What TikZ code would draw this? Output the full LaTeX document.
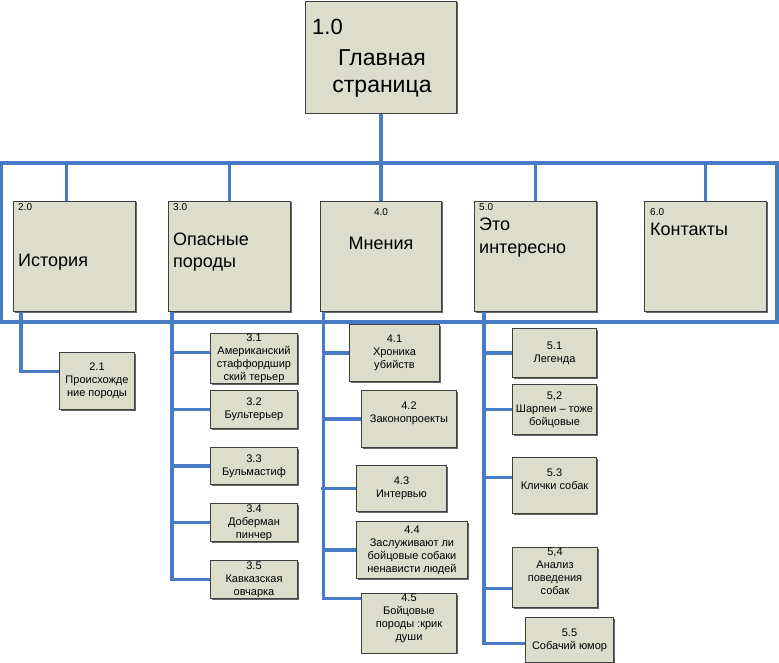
\documentclass[tikz,border=0pt]{standalone}
\usepackage{fontspec}
\setmainfont{Liberation Sans}
\usetikzlibrary{shadows}
\definecolor{boxfill}{RGB}{220,221,203}
\definecolor{wireblue}{RGB}{72,122,198}
\begin{document}
\begin{tikzpicture}[x=1pt,y=-1pt,
    box/.style={draw=black!75,line width=1pt,fill=boxfill,anchor=north west,inner sep=0pt,
        drop shadow={shadow xshift=1pt,shadow yshift=-1pt,fill=black!60,opacity=1}},
    leaf/.style={box,align=center,font=\fontsize{11}{13}\selectfont},
    wire/.style={draw=wireblue,line width=3.2pt},
    num/.style={inner sep=0pt,anchor=base west,font=\fontsize{10}{12}\selectfont},
    title/.style={inner sep=0pt,anchor=base west,align=left,font=\fontsize{18}{22.5}\selectfont}]
    \useasboundingbox (0,0) rectangle (779,663);

    % top level
    \node[box,minimum width=151,minimum height=112] (b1) at (305,1) {};
    \node[num,font=\fontsize{22}{26}\selectfont] (n1) at ([shift={(7,34)}]b1.north west) {1.0};
    \node[inner sep=0pt,anchor=base,align=center,font=\fontsize{23}{27.7}\selectfont] (h1)
        at ([shift={(1,92)}]b1.north) {Главная\\страница};

    % second level
    \node[box,minimum width=122,minimum height=110] (b2) at (13,201) {};
    \node[box,minimum width=122,minimum height=110] (b3) at (168,201) {};
    \node[box,minimum width=121,minimum height=110] (b4) at (320,201) {};
    \node[box,minimum width=122,minimum height=110] (b5) at (474,201) {};
    \node[box,minimum width=122,minimum height=110] (b6) at (644,201) {};

    \node[num] (n2) at ([shift={(5,10)}]b2.north west) {2.0};
    \node[title] (h2) at ([shift={(5,65)}]b2.north west) {История};
    \node[num] (n3) at ([shift={(5,10)}]b3.north west) {3.0};
    \node[title] (h3) at ([shift={(5,66.5)}]b3.north west) {Опасные\\породы};
    \node[num,anchor=base] (n4) at ([shift={(0,15)}]b4.north) {4.0};
    \node[title,anchor=base] (h4) at ([shift={(0,48)}]b4.north) {Мнения};
    \node[num] (n5) at ([shift={(5,10)}]b5.north west) {5.0};
    \node[title] (h5) at ([shift={(5,52)}]b5.north west) {Это\\интересно};
    \node[num] (n6) at ([shift={(6,15)}]b6.north west) {6.0};
    \node[title] (h6) at ([shift={(6,35)}]b6.north west) {Контакты};

    % third level
    \node[leaf,minimum width=75,minimum height=57] (b21) at (59,352) {2.1\\Происхожде\\ние породы};

    \node[leaf,minimum width=87,minimum height=50] (b31) at (210,333) {3.1\\Американский\\стаффордшир\\ский терьер};
    \node[leaf,minimum width=87,minimum height=38] (b32) at (210,390) {3.2\\Бультерьер};
    \node[leaf,minimum width=87,minimum height=37] (b33) at (210,447) {3.3\\Бульмастиф};
    \node[leaf,minimum width=87,minimum height=38] (b34) at (210,503) {3.4\\Доберман\\пинчер};
    \node[leaf,minimum width=87,minimum height=38] (b35) at (210,560) {3.5\\Кавказская\\овчарка};

    \node[leaf,minimum width=90,minimum height=57] (b41) at (349,324) {4.1\\Хроника\\убийств};
    \node[leaf,minimum width=95,minimum height=57] (b42) at (361,390) {4.2\\Законопроекты\\\mbox{}};
    \node[leaf,minimum width=90,minimum height=46] (b43) at (356,465) {4.3\\Интервью};
    \node[leaf,minimum width=111,minimum height=57] (b44) at (356,521) {4.4\\Заслуживают ли\\бойцовые собаки\\ненависти людей};
    \node[leaf,minimum width=95,minimum height=59] (b45) at (361,593) {4.5\\Бойцовые\\породы :крик\\души\\\mbox{}};

    \node[leaf,minimum width=84,minimum height=49] (b51) at (512,328) {5.1\\Легенда};
    \node[leaf,minimum width=84,minimum height=50] (b52) at (512,384) {5,2\\Шарпеи – тоже\\бойцовые};
    \node[leaf,minimum width=84,minimum height=56] (b53) at (512,457) {5.3\\Клички собак\\\mbox{}};
    \node[leaf,minimum width=85,minimum height=60] (b54) at (512,547) {5,4\\Анализ\\поведения\\собак\\\mbox{}};
    \node[leaf,minimum width=88,minimum height=45] (b55) at (525,617) {5.5\\Собачий юмор};

    % frame and drops
    \coordinate (ftl) at (1.5,163);
    \coordinate (fbr) at (777,322);
    \draw[wire] (ftl) rectangle (fbr);
    \draw[wire] (b1.south) -- (b4.north);
    \coordinate (d2) at ([xshift=-8pt]b2.north);
    \draw[wire] (d2 |- ftl) -- (d2);
    \foreach \b in {b3,b5,b6}
        \draw[wire] (\b.north |- ftl) -- (\b.north);

    % branches under 2.0
    \coordinate (s2) at ([xshift=8pt]b2.south west);
    \coordinate (e21) at ([yshift=9.5pt]b21.west);
    \draw[wire] (s2) |- (e21);

    % branches under 3.0
    \coordinate (s3) at ([xshift=4pt]b3.south west);
    \coordinate (e31) at ([yshift=6pt]b31.west);
    \draw[wire] (s3) |- (b35.west);
    \draw[wire] (s3 |- e31) -- (e31);
    \foreach \b in {b32,b33,b34}
        \draw[wire] (s3 |- \b.west) -- (\b.west);

    % branches under 4.0
    \coordinate (s4) at ([xshift=3.5pt]b4.south west);
    \coordinate (s4l) at ([xshift=-3pt]s4);
    \coordinate (e45) at ([yshift=24.5pt]b45.west);
    \draw[wire] (s4) |- (e45);
    \foreach \b in {b41,b42,b44}
        \draw[wire] (s4 |- \b.west) -- (\b.west);
    \draw[wire] (s4l |- b43.west) -- (b43.west);

    % branches under 5.0
    \coordinate (s5) at ([xshift=10pt]b5.south west);
    \coordinate (e53) at ([yshift=8pt]b53.west);
    \coordinate (e54) at ([yshift=-11pt]b54.west);
    \coordinate (e55) at ([yshift=-3.5pt]b55.west);
    \draw[wire] (s5) |- (e55);
    \foreach \b in {b51,b52,e53,e54}
        \draw[wire] (s5 |- \b) -- (\b);
\end{tikzpicture}
\end{document}
